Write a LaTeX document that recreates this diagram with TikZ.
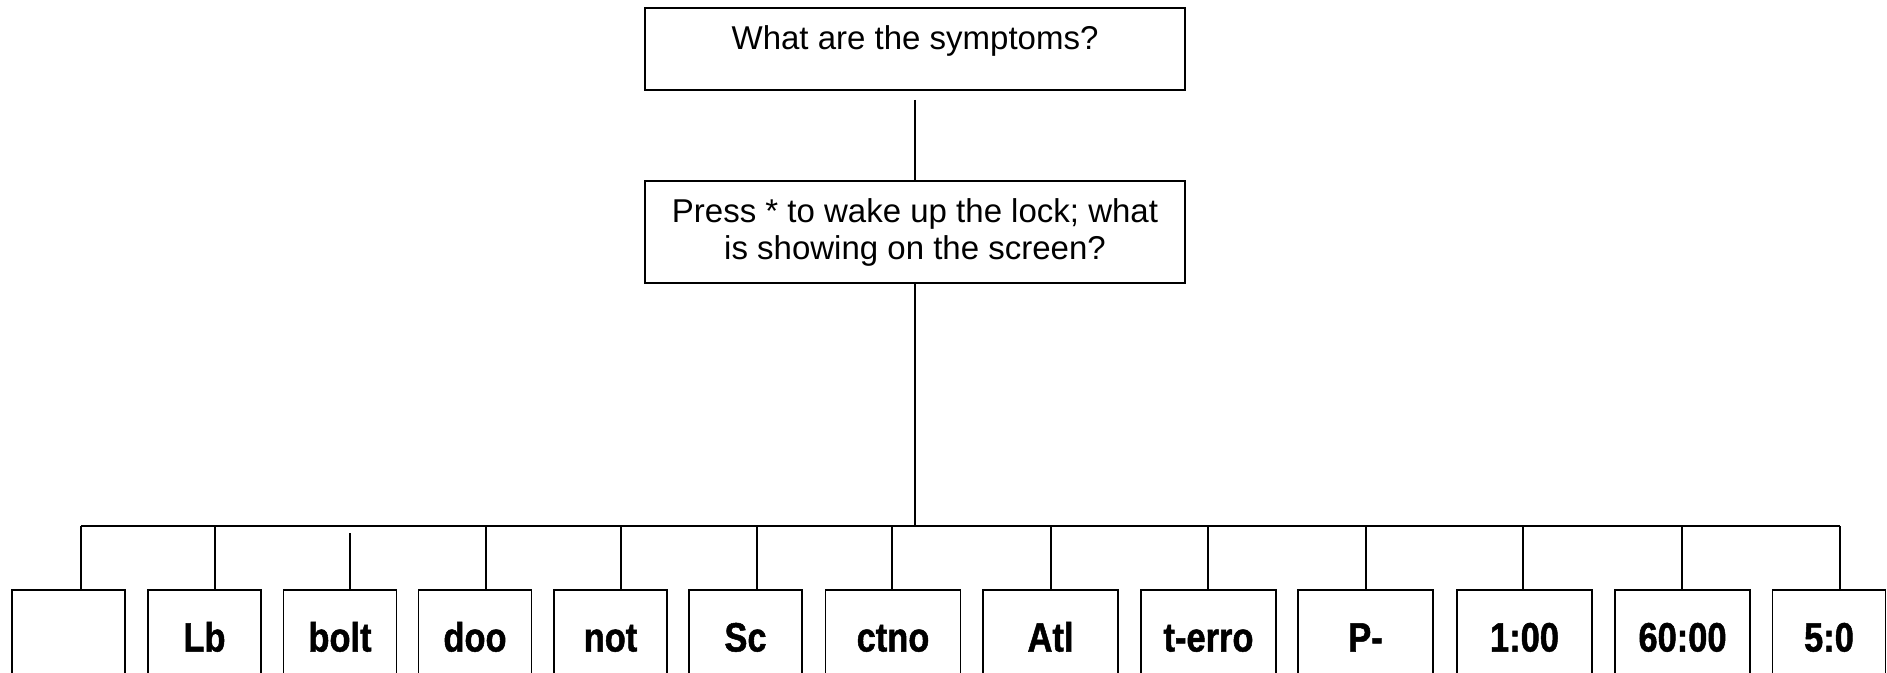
\documentclass[tikz,border=0pt]{standalone}
\usepackage{fontspec}
\setmainfont{Liberation Sans}
\newfontfamily\condbold[FakeStretch=0.84,FakeBold=1.2]{Liberation Sans Bold}
\begin{document}
\begin{tikzpicture}[x=1pt,y=-1pt,line width=1.6pt,
  qbox/.style={draw, minimum width=540pt, inner sep=0pt, align=center,
    font=\fontsize{33}{37}\selectfont},
  ansbox/.style={draw, minimum height=94pt, inner sep=0pt,
    font=\condbold\fontsize{41}{45}\selectfont, text height=29pt, text depth=0pt},
  narrowbox/.style={ansbox, minimum width=113pt},
  widebox/.style={ansbox, minimum width=135pt}]
\useasboundingbox (0,0) rectangle (1887,672);
\clip (0,0) rectangle (1887,672);

\node[qbox, minimum height=82pt,
  label={[name=q1t, font=\fontsize{33}{37}\selectfont, yshift=8pt]center:What are the symptoms?}] (q1) at (915,49) {};
\node[qbox, minimum height=102pt] (q2) at (915,232) {Press * to wake up the lock; what\\is showing on the screen?};

\node[narrowbox] (b1) at (68.5,637) {};
\node[narrowbox] (b2) at (204.5,637) {Lb};
\node[narrowbox] (b3) at (340,637) {bolt};
\node[narrowbox] (b4) at (475,637) {doo};
\node[narrowbox] (b5) at (610.5,637) {not};
\node[narrowbox] (b6) at (745.5,637) {Sc};
\node[widebox] (b7) at (893,637) {ctno};
\node[widebox] (b8) at (1050.5,637) {Atl};
\node[widebox] (b9) at (1208.5,637) {t-erro};
\node[widebox] (b10) at (1365.5,637) {P-};
\node[widebox] (b11) at (1524.5,637) {1:00};
\node[widebox] (b12) at (1682.5,637) {60:00};
\node[narrowbox] (b13) at (1829,637) {5:0};

\coordinate (hub) at (915,526);
\foreach \n/\x in {1/81,2/215,3/350,4/486,5/621,6/757,7/892,8/1051,9/1208,10/1366,11/1523,12/1682,13/1840}
  \coordinate (d\n) at (\x,526);

\draw[shorten <=9pt] (q1.south) -- (q2.north);
\draw (q2.south) -- (hub);
\draw (d1) -- (d13);
\foreach \n in {1,2,4,5,6,7,8,9,10,11,12,13}
  \draw (d\n) -- (d\n |- b\n.north);
\draw[shorten <=7pt] (d3) -- (d3 |- b3.north);
\end{tikzpicture}
\end{document}
